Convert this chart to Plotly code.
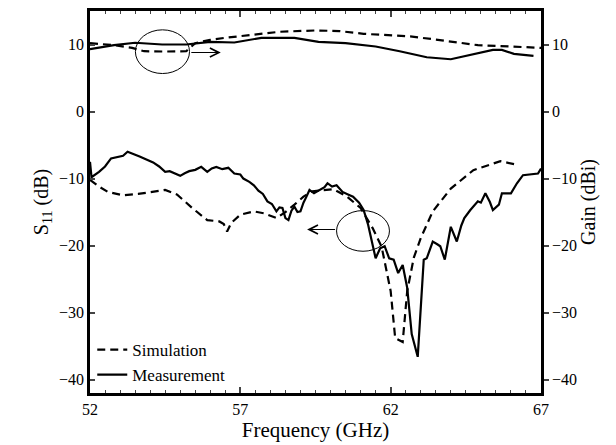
import plotly.graph_objects as go

# S11 simulation
s11_sim_f = [52.0, 52.3, 52.6, 53.1, 53.6, 54.1, 54.5, 54.9, 55.4, 55.9, 56.3, 56.45, 56.56, 56.7,
             57.0, 57.45, 57.8, 58.2, 58.5, 58.8, 59.1, 59.4, 60.1, 60.55, 61.0, 61.4, 61.7, 62.0,
             62.15, 62.4, 62.55, 62.77, 63.0, 63.4, 64.0, 64.75, 65.65, 66.25]
s11_sim_v = [-10.2, -11.2, -12.0, -12.5, -12.3, -12.0, -11.7, -12.4, -14.4, -16.2, -16.4, -16.8, -17.9, -16.6,
             -15.4, -14.9, -15.2, -15.9, -15.0, -13.9, -12.7, -11.9, -11.6, -12.7, -14.4, -17.4, -20.2, -26.8,
             -33.8, -34.4, -26.8, -21.8, -18.9, -14.9, -11.5, -8.75, -7.4, -8.0]

# S11 measurement
s11_meas_f = [52.0, 52.05, 52.3, 52.5, 52.7, 52.95, 53.1, 53.25, 53.5, 53.65, 53.8, 54.1, 54.3, 54.5,
              54.65, 54.8, 55.0, 55.15, 55.3, 55.5, 55.7, 55.9, 56.05, 56.2, 56.4, 56.6, 56.8, 57.0,
              57.1, 57.3, 57.45, 57.6, 57.75, 57.9, 58.05, 58.2, 58.3, 58.4, 58.5, 58.6, 58.7, 58.8,
              58.9, 59.0, 59.1, 59.2, 59.3, 59.45, 59.65, 59.8, 59.9, 60.05, 60.2, 60.4, 60.6, 60.75,
              60.95, 61.1, 61.25, 61.35, 61.5, 61.65, 61.8, 61.95, 62.1, 62.25, 62.4, 62.55, 62.7,
              62.9, 63.0, 63.1, 63.2, 63.4, 63.55, 63.65, 63.8, 64.0, 64.2, 64.35, 64.45, 64.65,
              64.9, 65.0, 65.15, 65.3, 65.4, 65.6, 65.7, 66.0, 66.2, 66.4, 66.9, 67.0]
s11_meas_v = [-7.5, -9.8, -9.0, -8.2, -7.0, -6.8, -6.6, -6.0, -6.4, -6.7, -7.0, -7.6, -8.2, -9.0,
              -8.9, -9.25, -9.6, -9.2, -8.9, -8.7, -8.26, -9.0, -8.5, -8.26, -8.6, -8.4, -9.25, -9.4,
              -10.0, -10.5, -11.0, -11.8, -12.3, -13.4, -13.8, -14.9, -14.3, -14.4, -15.9, -16.2, -14.8, -14.2,
              -15.0, -14.9, -13.6, -12.7, -11.7, -12.2, -11.7, -11.3, -10.7, -11.2, -11.0, -12.0, -12.4, -12.7,
              -13.6, -14.7, -16.9, -18.9, -21.9, -20.4, -20.1, -21.9, -22.1, -24.1, -22.9, -26.3, -33.2,
              -36.6, -29.3, -22.1, -21.9, -19.4, -19.8, -20.1, -22.1, -17.2, -19.4, -17.0, -15.9, -14.7,
              -13.4, -13.6, -12.2, -13.5, -14.7, -13.9, -12.2, -12.2, -10.7, -9.5, -9.25, -8.5]

# Gain simulation
gain_sim_f = [52.0, 52.8, 53.4, 53.8, 54.5, 55.2, 55.5, 56.0, 56.5, 57.4, 58.3, 59.5, 60.3, 61.1,
              62.0, 62.65, 63.4, 64.3, 64.9, 66.0, 67.0]
gain_sim_v = [10.2, 9.9, 9.5, 9.0, 8.95, 9.0, 10.2, 10.7, 11.0, 11.5, 11.9, 12.1, 12.0, 11.6,
              11.4, 11.2, 10.8, 10.2, 9.9, 9.7, 9.5]

# Gain measurement
gain_meas_f = [52.0, 52.8, 53.5, 54.4, 55.2, 56.0, 56.8, 57.7, 58.8, 59.6, 60.5, 61.5, 62.3, 63.2,
               64.0, 64.75, 65.4, 65.7, 66.1, 66.75]
gain_meas_v = [9.3, 9.9, 10.26, 10.0, 10.0, 10.4, 10.3, 11.0, 11.0, 10.4, 10.2, 9.7, 9.0, 8.1,
               7.8, 8.6, 9.2, 9.2, 8.6, 8.3]

x_ticks = [52, 57, 62, 67]
y_ticks = [-40, -30, -20, -10, 0, 10]

FONT = "Liberation Serif, DejaVu Serif, Noto Serif, FreeSerif, Nimbus Roman, Times New Roman, Times, serif"
LW = 2.2

fig = go.Figure()
fig.add_trace(go.Scatter(x=s11_sim_f, y=s11_sim_v, mode="lines", name="Simulation",
                         line=dict(color="black", width=LW, dash="8px,5px"), yaxis="y"))
fig.add_trace(go.Scatter(x=s11_meas_f, y=s11_meas_v, mode="lines", name="Measurement",
                         line=dict(color="black", width=LW), yaxis="y"))
fig.add_trace(go.Scatter(x=gain_sim_f, y=gain_sim_v, mode="lines", showlegend=False,
                         line=dict(color="black", width=LW, dash="8px,5px"), yaxis="y2"))
fig.add_trace(go.Scatter(x=gain_meas_f, y=gain_meas_v, mode="lines", showlegend=False,
                         line=dict(color="black", width=LW), yaxis="y2"))

# ellipses
fig.add_shape(type="circle", xref="x", yref="y", x0=53.51, x1=55.31, y0=5.67, y1=12.19,
              line=dict(color="black", width=1))
fig.add_shape(type="circle", xref="x", yref="y", x0=60.2, x1=61.96, y0=-20.85, y1=-14.78,
              line=dict(color="black", width=1))
# arrows
fig.add_annotation(x=56.35, y=8.8, ax=55.32, ay=8.8, xref="x", yref="y", axref="x", ayref="y",
                   showarrow=True, arrowhead=5, arrowsize=1.6, arrowwidth=1.1, arrowcolor="black",
                   text="")
fig.add_annotation(x=59.22, y=-17.6, ax=60.2, ay=-17.6, xref="x", yref="y", axref="x", ayref="y",
                   showarrow=True, arrowhead=5, arrowsize=1.6, arrowwidth=1.1, arrowcolor="black",
                   text="")

fig.update_layout(
    width=616, height=445,
    margin=dict(l=90, r=75, t=8, b=52),
    paper_bgcolor="white", plot_bgcolor="white",
    font=dict(family=FONT, size=16, color="black"),
    showlegend=True,
    legend=dict(x=0.005, y=0.0, xanchor="left", yanchor="bottom", bgcolor="rgba(0,0,0,0)",
                font=dict(family=FONT, size=17), tracegroupgap=0, itemwidth=30),
    xaxis=dict(range=[52, 67], tickvals=x_ticks, ticks="inside", ticklen=6, tickwidth=1.5,
               showline=True, linewidth=2.5, linecolor="black", mirror="ticks", showgrid=False,
               zeroline=False, tickfont=dict(family=FONT, size=16),
               minor=dict(dtick=0.5, ticks="inside", ticklen=3, tickwidth=1.2, showgrid=False),
               title=dict(text="Frequency (GHz)", font=dict(family=FONT, size=21), standoff=4)),
    yaxis=dict(range=[-42, 15], tickvals=y_ticks, ticks="inside", ticklen=5, tickwidth=1.5,
               showline=True, linewidth=2.5, linecolor="black", showgrid=False, zeroline=False,
               tickfont=dict(family=FONT, size=16),
               title=dict(text="S<sub>11</sub> (dB)", font=dict(family=FONT, size=20), standoff=6)),
    yaxis2=dict(range=[-42, 15], tickvals=y_ticks, ticks="outside", ticklen=5, tickwidth=1.5,
                overlaying="y", side="right", showline=True, linewidth=2.5, linecolor="black",
                showgrid=False, zeroline=False, tickfont=dict(family=FONT, size=16),
                title=dict(text="Gain (dBi)", font=dict(family=FONT, size=20), standoff=6)),
)

fig.write_html("out.html")
